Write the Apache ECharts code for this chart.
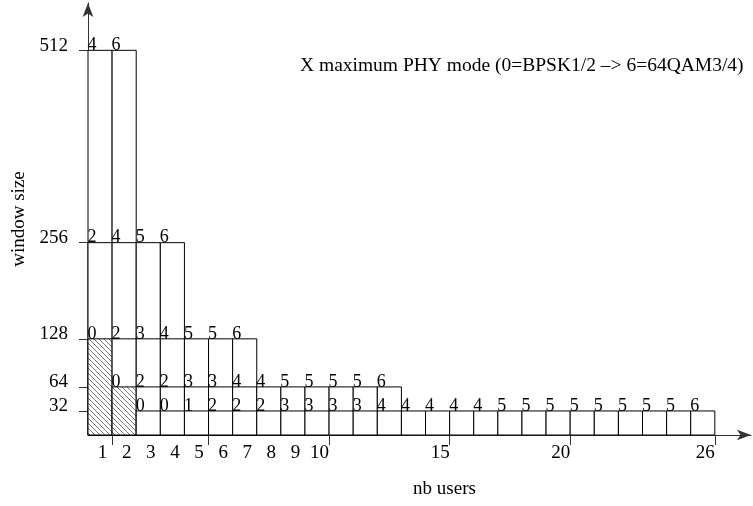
<!DOCTYPE html>
<html>
<head>
<meta charset="utf-8">
<script src="https://cdn.jsdelivr.net/npm/echarts@6/dist/echarts.min.js"></script>
<style>
  html, body { margin: 0; padding: 0; background: #fff; }
  #chart { width: 753px; height: 506px; }
</style>
</head>
<body>
<div id="chart"></div>
<script>
// window sizes and the first nb users value each row starts at
const windowSizes = [512, 256, 128, 64, 32];
const firstUser = [1, 1, 1, 2, 3];
// max PHY mode per nb users, one list per window size
const modes512 = [4, 6];
const modes256 = [2, 4, 5, 6];
const modes128 = [0, 2, 3, 4, 5, 5, 6];
const modes64 = [0, 2, 2, 3, 3, 4, 4, 5, 5, 5, 5, 6];
const modes32 = [0, 0, 1, 2, 2, 2, 3, 3, 3, 3, 4, 4, 4, 4, 4, 5, 5, 5, 5, 5, 5, 5, 5, 6];
const modeRows = [modes512, modes256, modes128, modes64, modes32];
// cells drawn hatched: [nb users, window size]
const hatchedCells = [[1, 128], [2, 64]];

const xLabels = [1, 2, 3, 4, 5, 6, 7, 8, 9, 10, 15, 20, 26];
const xTicks = [1, 5, 10, 15, 20, 26];
const yTicks = [32, 64, 128, 256, 512];

const FONT = '"Liberation Serif", "Times New Roman", serif';

// build cells, biggest window first so smaller boxes sit on top
const cells = [];
windowSizes.forEach((w, i) => {
  modeRows[i].forEach((m, j) => {
    const u = firstUser[i] + j;
    const hatch = hatchedCells.some(c => c[0] === u && c[1] === w) ? 1 : 0;
    cells.push([u, w, m, hatch]);
  });
});

// diagonal hatch pattern
const pat = document.createElement('canvas');
pat.width = 5; pat.height = 5;
const pctx = pat.getContext('2d');
pctx.fillStyle = '#fff';
pctx.fillRect(0, 0, 5, 5);
pctx.strokeStyle = '#555';
pctx.lineWidth = 0.8;
pctx.beginPath();
pctx.moveTo(-1, -1); pctx.lineTo(6, 6);
pctx.moveTo(-1, 4); pctx.lineTo(1, 6);
pctx.moveTo(4, -1); pctx.lineTo(6, 1);
pctx.stroke();

const chart = echarts.init(document.getElementById('chart'));

const option = {
  animation: false,
  backgroundColor: '#fff',
  title: {
    text: 'X maximum PHY mode (0=BPSK1/2 –> 6=64QAM3/4)',
    left: 295,
    top: 51,
    textStyle: { fontFamily: FONT, fontSize: 19.5, fontWeight: 'normal', color: '#000' }
  },
  grid: { left: 88, right: 2, top: 3, bottom: 71 },
  xAxis: {
    type: 'value',
    min: 0,
    max: 27.5,
    name: 'nb users',
    nameLocation: 'middle',
    nameGap: 45,
    nameTextStyle: { fontFamily: FONT, fontSize: 19, color: '#000', padding: [0, 0, 0, 50] },
    splitLine: { show: false },
    axisLine: {
      lineStyle: { color: '#333', width: 1 },
      symbol: ['none', 'arrow'],
      symbolSize: [8, 14]
    },
    axisTick: { customValues: xTicks, length: 10, lineStyle: { color: '#333' } },
    axisLabel: {
      customValues: xLabels,
      fontFamily: FONT,
      fontSize: 19,
      color: '#000',
      margin: 9,
      padding: [0, 19, 0, 0]
    }
  },
  yAxis: {
    type: 'value',
    min: 0,
    max: 575,
    name: 'window size',
    nameLocation: 'middle',
    nameRotate: 90,
    nameGap: 58,
    nameTextStyle: { fontFamily: FONT, fontSize: 19, color: '#000' },
    splitLine: { show: false },
    axisLine: {
      lineStyle: { color: '#333', width: 1 },
      symbol: ['none', 'arrow'],
      symbolSize: [8, 14]
    },
    axisTick: { customValues: yTicks, length: 9, lineStyle: { color: '#333' } },
    axisLabel: {
      customValues: yTicks,
      fontFamily: FONT,
      fontSize: 19,
      color: '#000',
      margin: 20,
      verticalAlign: 'bottom',
      lineHeight: 9
    }
  },
  series: [{
    type: 'custom',
    clip: false,
    data: cells,
    renderItem: function (params, api) {
      const u = api.value(0);
      const w = api.value(1);
      const topLeft = api.coord([u - 1, w]);
      const botRight = api.coord([u, 0]);
      const hatch = api.value(3) === 1;
      return {
        type: 'group',
        children: [{
          type: 'rect',
          shape: {
            x: topLeft[0],
            y: topLeft[1],
            width: botRight[0] - topLeft[0],
            height: botRight[1] - topLeft[1]
          },
          style: {
            fill: hatch ? { image: pat, repeat: 'repeat' } : '#fff',
            stroke: '#000',
            lineWidth: 1
          }
        }, {
          type: 'text',
          style: {
            text: String(api.value(2)),
            x: topLeft[0] - 0.5,
            y: topLeft[1] + 4,
            verticalAlign: 'bottom',
            align: 'left',
            font: '18px ' + FONT,
            fill: '#000'
          }
        }]
      };
    }
  }]
};

chart.setOption(option);
</script>
</body>
</html>
